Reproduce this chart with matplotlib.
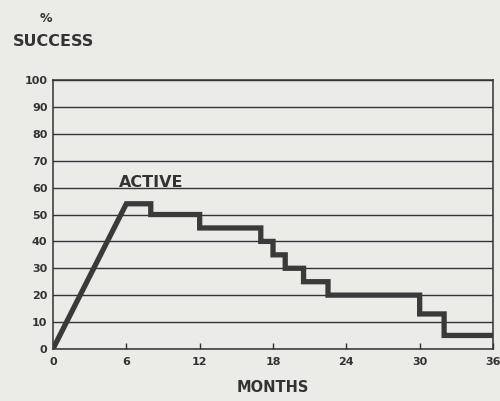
import matplotlib.pyplot as plt

# months where the curve changes, and the % success at each level
step_months = [6, 8, 12, 17, 18, 19, 20.5, 22.5, 30, 32, 36]
step_values = [54, 50, 45, 40, 35, 30, 25, 20, 13, 5, 5]
x_ticks = [0, 6, 12, 18, 24, 30, 36]
y_ticks = [0, 10, 20, 30, 40, 50, 60, 70, 80, 90, 100]

# ramp from origin, then horizontal-then-vertical steps
xs = [0]
ys = [0]
for i, (m, v) in enumerate(zip(step_months, step_values)):
    if i > 0:
        xs.append(m)
        ys.append(step_values[i - 1])
    xs.append(m)
    ys.append(v)

bg = '#ebebe8'
ink = '#333333'
fig = plt.figure(figsize=(5.0, 4.01), dpi=100, facecolor=bg)
ax = fig.add_axes([0.106, 0.130, 0.880, 0.670], facecolor=bg)

for v in y_ticks:
    ax.axhline(v, color=ink, lw=1.0, zorder=1)

ax.plot(xs, ys, color='#3a3a3a', lw=3.8, solid_joinstyle='miter', zorder=3)

ax.set_xlim(0, 36)
ax.set_ylim(0, 100)
ax.set_xticks(x_ticks)
ax.set_yticks(y_ticks)
ax.set_xticklabels([str(t) for t in x_ticks], fontsize=8, fontweight='bold', color=ink)
ax.set_yticklabels([str(t) for t in y_ticks], fontsize=8, fontweight='bold', color=ink)
ax.tick_params(axis='x', direction='in', length=4, width=1, color=ink, pad=6)
ax.tick_params(axis='y', length=0, pad=4)
for s in ax.spines.values():
    s.set_color(ink)
    s.set_linewidth(1.1)

ax.text(8.0, 59.3, 'ACTIVE', fontsize=11.5, fontweight='bold', color=ink, ha='center', va='bottom')
ax.set_xlabel('MONTHS', fontsize=10.5, fontweight='bold', color=ink, labelpad=9)

fig.text(0.092, 0.955, '%', fontsize=9, fontweight='bold', color=ink, ha='center', va='center')
fig.text(0.108, 0.897, 'SUCCESS', fontsize=11.5, fontweight='bold', color=ink, ha='center', va='center')

fig.savefig('out.png', dpi=100, facecolor=bg)
